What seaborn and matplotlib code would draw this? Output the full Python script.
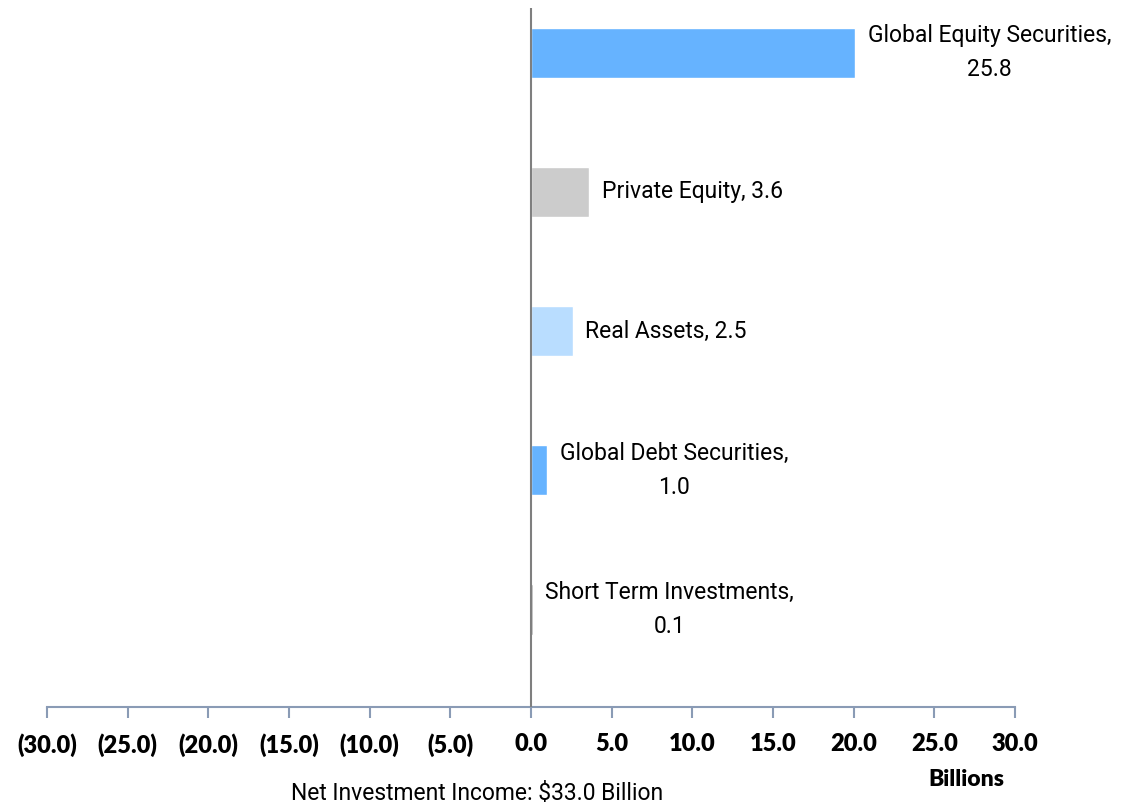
import pandas as pd
import matplotlib.pyplot as plt
import seaborn as sns

# Asset classes, top to bottom
categories = ['Global Equity Securities', 'Private Equity', 'Real Assets',
              'Global Debt Securities', 'Short Term Investments']
# Bar lengths as drawn on the chart (equity bar is clipped in the original)
bar_lengths = [20.1, 3.6, 2.6, 1.0, 0.1]
# Values printed in the data labels ($ billions)
label_values = [25.8, 3.6, 2.5, 1.0, 0.1]
label_breaks = [True, False, False, True, True]
bar_colors = ['#66B3FF', '#CCCCCC', '#B9DDFF', '#66B3FF', '#A6A6A6']
tick_values = [-30, -25, -20, -15, -10, -5, 0, 5, 10, 15, 20, 25, 30]

df = pd.DataFrame({'category': categories, 'length': bar_lengths})

sns.set_style('white')
label_font = ['Roboto', 'DejaVu Sans']
tick_font = ['Lato', 'DejaVu Sans']

fig = plt.figure(figsize=(11.25, 8.06), dpi=100)
ax = fig.add_axes([0.0418, 0.1228, 0.8604, 0.8672])

sns.barplot(data=df, x='length', y='category', hue='category',
            palette=bar_colors, orient='h', width=0.36, legend=False,
            saturation=1, ax=ax)

ax.set_xlim(-30, 30)
ax.set_ylim(4.7, -0.32)

# axes styling
for side in ['top', 'right', 'left']:
    ax.spines[side].set_visible(False)
ax.spines['bottom'].set_color('#8A9BB5')
ax.spines['bottom'].set_linewidth(1.5)
ax.axvline(0, color='#7F7F7F', lw=1.5, zorder=3)

ax.set_yticks([])
ax.set_xticks(tick_values)
ax.set_xticklabels([f'({abs(v):.1f})' if v < 0 else f'{v:.1f}' for v in tick_values],
                   fontsize=17, fontweight='heavy', family=tick_font, color='black')
ax.tick_params(axis='x', bottom=True, direction='out', length=8, width=1.5,
               color='#8A9BB5', pad=11)
ax.set_xlabel('')
ax.set_ylabel('')

# data labels
for i, (name, val, brk) in enumerate(zip(categories, label_values, label_breaks)):
    sep = ',\n' if brk else ', '
    ax.annotate(f'{name}{sep}{val:.1f}', xy=(bar_lengths[i], i),
                xytext=(9, 0), textcoords='offset points',
                ha='left', va='center', multialignment='center',
                fontsize=16.5, family=label_font, linespacing=1.6, color='black')

fig.text(966 / 1125, 1 - 780 / 806, 'Billions', ha='center', va='center',
         fontsize=16.5, fontweight='heavy', family=tick_font, color='black')
fig.text(477 / 1125, 1 - 794 / 806, 'Net Investment Income: $33.0 Billion',
         ha='center', va='center', fontsize=16.5, family=label_font, color='black')

fig.savefig('out.png', dpi=100)
